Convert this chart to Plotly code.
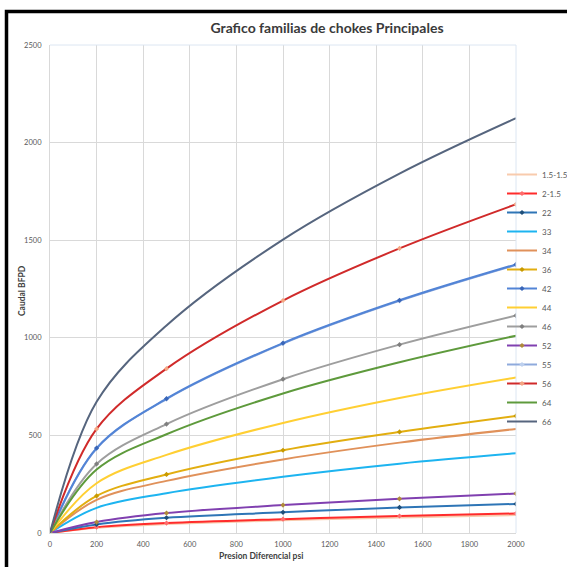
import plotly.graph_objects as go

# ---- data ----
pressure = [0, 200, 500, 1000, 1500, 2000]

series_names = ["1.5-1.5", "2-1.5", "22", "33", "34", "36", "42",
                "44", "46", "52", "55", "56", "64", "66"]

s_15_15 = [0, 27, 46, 65, 80, 92]
s_2_15 = [0, 30, 51, 71, 87, 100]
s_22 = [0, 44, 78, 106, 131, 149]
s_33 = [0, 129, 204, 288, 355, 408]
s_34 = [0, 170, 267, 377, 463, 533]
s_36 = [0, 190, 300, 424, 518, 600]
s_42 = [0, 435, 688, 973, 1192, 1376]
s_44 = [0, 255, 400, 564, 692, 797]
s_46 = [0, 354, 558, 788, 965, 1114]
s_52 = [0, 56, 102, 143, 175, 202]
s_55 = [0, 433, 686, 970, 1189, 1373]
s_56 = [0, 533, 842, 1191, 1458, 1684]
s_64 = [0, 325, 506, 715, 875, 1011]
s_66 = [0, 672, 1063, 1503, 1841, 2125]

series_values = [s_15_15, s_2_15, s_22, s_33, s_34, s_36, s_42,
                 s_44, s_46, s_52, s_55, s_56, s_64, s_66]

x_ticks = [0, 200, 400, 600, 800, 1000, 1200, 1400, 1600, 1800, 2000]
y_ticks = [0, 500, 1000, 1500, 2000, 2500]

# ---- styles ----
line_colors = ["#F8CBAD", "#FF2B2B", "#2E75B6", "#1DB4F0", "#E0915A", "#E2AE10",
               "#5284D6", "#FFCF33", "#9E9E9E", "#8040B0", "#8FAADC", "#D02A2A",
               "#5E9A3C", "#56657E"]
marker_colors = [None, "#FF6B6B", "#1F4E79", None, None, "#C89A00",
                 "#3A66B8", None, "#7F7F7F", "#B08A3A", "#BDD0EE", "#F4A582",
                 None, None]
# drawing order (55 sits underneath 42); legend keeps the original order
draw_order = [0, 1, 2, 3, 4, 5, 10, 6, 7, 8, 9, 11, 12, 13]

FONT = "Lato"
fig = go.Figure()
for i in draw_order:
    name, vals, lc, mc = series_names[i], series_values[i], line_colors[i], marker_colors[i]
    common = dict(x=pressure, y=vals, name=name, legendrank=1000 + i,
                  line=dict(color=lc, width=2, shape="spline", smoothing=1))
    if mc is None:
        fig.add_trace(go.Scatter(mode="lines", **common))
    else:
        fig.add_trace(go.Scatter(mode="lines+markers",
                                 marker=dict(color=mc, size=4, symbol="diamond"), **common))

W, H = 567, 567
L, R, T, B = 50, 51, 45, 34
pw, ph = W - L - R, H - T - B

def px_x(p):
    return (p - L) / pw

def px_y(p):
    return (H - B - p) / ph

axis_title_font = dict(family=FONT, size=8.5, color="#404040", weight="bold")

fig.update_layout(
    width=W, height=H,
    margin=dict(l=L, r=R, t=T, b=B, autoexpand=False),
    paper_bgcolor="white", plot_bgcolor="white",
    font=dict(family=FONT, size=7.5, color="#595959"),
    title=dict(text="Grafico familias de chokes Principales",
               font=dict(family=FONT, size=14, color="#3A3A3A", weight="bold"),
               x=px_x(327), xref="paper", xanchor="center",
               y=1 - 28 / H, yref="container", yanchor="middle"),
    showlegend=True,
    legend=dict(x=px_x(502), xanchor="left", y=px_y(298), yanchor="middle",
                font=dict(family=FONT, size=8, color="#595959"),
                bgcolor="rgba(0,0,0,0)", itemwidth=30, tracegroupgap=0),
    xaxis=dict(range=[0, 2000], tickvals=x_ticks, showgrid=True, gridcolor="#D9D9D9",
               gridwidth=1, zeroline=False, showline=True, linecolor="#D9D9D9",
               ticks="", tickfont=dict(family=FONT, size=7.5, color="#595959"),
               ticklabelstandoff=4, automargin=False),
    yaxis=dict(range=[0, 2500], tickvals=y_ticks, showgrid=True, gridcolor="#D9D9D9",
               gridwidth=1, zeroline=False, showline=True, linecolor="#D9D9D9",
               ticks="", tickfont=dict(family=FONT, size=7.5, color="#595959"),
               ticklabelstandoff=6, automargin=False),
    annotations=[
        dict(text="Presion Diferencial psi", xref="paper", yref="paper",
             x=px_x(261), y=px_y(556), xanchor="center", yanchor="middle",
             showarrow=False, font=axis_title_font),
        dict(text="Caudal BFPD", xref="paper", yref="paper", textangle=-90,
             x=px_x(22), y=px_y(291), xanchor="center", yanchor="middle",
             showarrow=False, font=axis_title_font),
    ],
    shapes=[
        dict(type="rect", xref="paper", yref="paper", layer="above",
             x0=px_x(6.5), x1=px_x(600), y0=px_y(600), y1=px_y(11.5),
             line=dict(color="black", width=3.5), fillcolor="rgba(0,0,0,0)"),
        dict(type="line", xref="paper", yref="paper", x0=0, x1=1, y0=1, y1=1,
             line=dict(color="#DCE6F2", width=1)),
        dict(type="line", xref="paper", yref="paper", x0=1, x1=1, y0=0, y1=1,
             line=dict(color="#DCE6F2", width=1)),
    ],
)

fig.write_html("out.html", config={"displayModeBar": False},
               post_script="document.body.style.margin='0';")
